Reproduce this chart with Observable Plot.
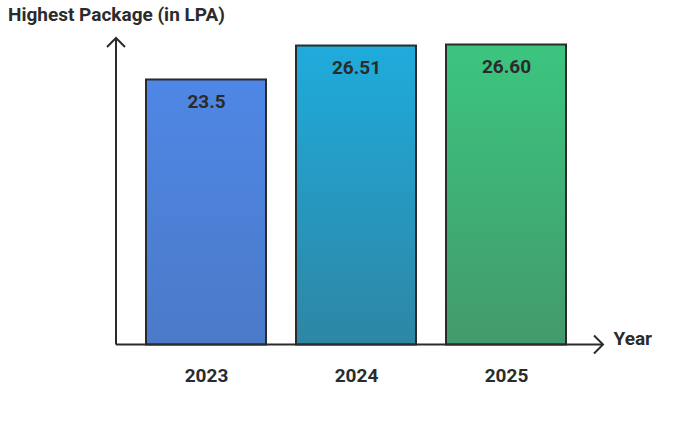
<!DOCTYPE html>
<html>
<head>
<meta charset="utf-8">
<script src="https://cdn.jsdelivr.net/npm/d3@7"></script>
<script src="https://cdn.jsdelivr.net/npm/@observablehq/plot@0.6"></script>
<style>
  html, body { margin: 0; padding: 0; background: #fff; }
  #title { font-family: Roboto, sans-serif; font-weight: bold; font-size: 19px; color: #2b2b2b;
           height: 30px; line-height: 30px; padding-left: 8px; white-space: nowrap; }
  #chart svg { display: block; }
</style>
</head>
<body>
<div id="title">Highest Package (in LPA)</div>
<div id="chart"></div>
<script>
const years = ["2023", "2024", "2025"];
const packages = [23.5, 26.51, 26.60];
const valueLabels = ["23.5", "26.51", "26.60"];
const gradTop = ["#4f87e6", "#1fabdc", "#3cc57f"];
const gradBottom = ["#4b7ac8", "#2e86a4", "#439a6c"];
const xLabel = "Year";

const data = years.map((y, i) => ({year: y, value: packages[i], label: valueLabels[i], fill: `url(#grad${i})`}));
const ink = "#2b2b2b";

const W = 684, H = 392;
const plot = Plot.plot({
  width: W,
  height: H,
  marginLeft: 116,
  marginRight: 88,
  marginTop: 10,
  marginBottom: 77.5,
  style: {fontFamily: "Roboto, sans-serif", background: "white", color: ink, overflow: "visible"},
  x: {domain: years, padding: 0.2, axis: null},
  y: {domain: [0, 27], axis: null},
  color: {type: "identity"},
  marks: [
    Plot.barY(data, {x: "year", y: "value", fill: "fill", stroke: ink, strokeWidth: 2}),
    Plot.text(data, {x: "year", y: "value", text: "label", dy: 22, fontSize: 19, fontWeight: "bold", fill: ink}),
    Plot.text(data, {x: "year", text: "year", frameAnchor: "bottom", dy: 36.8, fontSize: 19, fontWeight: "bold", fill: ink}),
    Plot.text([xLabel], {text: d => d, frameAnchor: "bottom-right", textAnchor: "start", dx: 17, fontSize: 19, fontWeight: "bold", fill: ink})
  ]
});

const svg = d3.select(plot);
const defs = svg.insert("defs", ":first-child");
years.forEach((y, i) => {
  const g = defs.append("linearGradient").attr("id", `grad${i}`).attr("x1", 0).attr("y1", 0).attr("x2", 0).attr("y2", 1);
  g.append("stop").attr("offset", "0%").attr("stop-color", gradTop[i]);
  g.append("stop").attr("offset", "100%").attr("stop-color", gradBottom[i]);
});

// axes with arrowheads, positioned from the scales
const xr = plot.scale("x").range;
const yr = plot.scale("y").range;
const x0 = xr[0], x1 = xr[1];
const yBase = yr[0], yTop = yr[1];
const axes = svg.append("g").attr("fill", "none").attr("stroke", ink).attr("stroke-width", 2)
  .attr("stroke-linecap", "butt").attr("stroke-linejoin", "miter");
const yTip = yTop - 2, xTip = x1 + 7;
axes.append("path").attr("d", `M${x0},${yBase}V${yTip}`);
axes.append("path").attr("d", `M${x0 - 9},${yTip + 9}L${x0},${yTip}L${x0 + 9},${yTip + 9}`);
axes.append("path").attr("d", `M${x0},${yBase}H${xTip}`);
axes.append("path").attr("d", `M${xTip - 9},${yBase - 9}L${xTip},${yBase}L${xTip - 9},${yBase + 9}`);

document.getElementById("chart").appendChild(plot);
</script>
</body>
</html>
